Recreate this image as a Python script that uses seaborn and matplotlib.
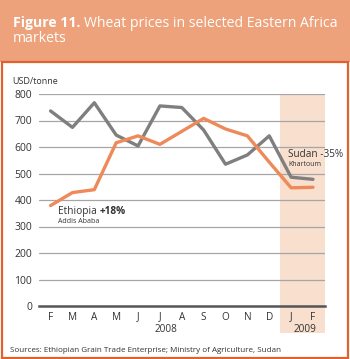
import matplotlib
matplotlib.use("Agg")
import matplotlib.pyplot as plt
import matplotlib.patches as mpatches
import seaborn as sns
import pandas as pd
import numpy as np

months = ["F", "M", "A", "M", "J", "J", "A", "S", "O", "N", "D", "J", "F"]
sudan = [736, 674, 767, 645, 604, 755, 749, 664, 535, 570, 642, 486, 478]
ethiopia = [379, 428, 439, 616, 642, 610, 659, 708, 668, 642, 543, 446, 448]
y_ticks = [0, 100, 200, 300, 400, 500, 600, 700, 800]
years = ["2008", "2009"]

sns.set_style("white")
plt.rcParams['font.family'] = ['Open Sans', 'DejaVu Sans']

W, H = 350, 359
fig = plt.figure(figsize=(W / 100, H / 100), dpi=100)
fig.patch.set_facecolor("white")

HEADER = "#EDA27B"
BORDER = "#E0622E"
SHADE = "#F9DFCE"
ORANGE = "#EE8A5A"
GRAY = "#7F7F7F"

def px(x, y):
    return x / W, 1 - y / H

# header band
fig.patches.append(mpatches.Rectangle((0, 1 - 62 / H), 1, 62 / H, transform=fig.transFigure,
                                      facecolor=HEADER, edgecolor="none", zorder=0))
# border around white area
fig.patches.append(mpatches.Rectangle(px(1.5, 357.5), 346.5 / W, 295.5 / H, transform=fig.transFigure,
                                      facecolor="none", edgecolor=BORDER, linewidth=1.6, zorder=1))

# title
TFS = 10.1
t1 = fig.text(*px(13, 27), "Figure 11.", color="white", fontsize=TFS, fontweight="bold", va="baseline", ha="left")
fig.text(*px(13, 42), "markets", color="white", fontsize=TFS, va="baseline", ha="left")
plt.gcf().canvas.draw()
bb = t1.get_window_extent()
fig.text(bb.x1 / W + 3.5 / W, px(0, 27)[1], "Wheat prices in selected Eastern Africa", color="white",
         fontsize=TFS, va="baseline", ha="left")

ax = fig.add_axes([39 / W, (H - 306) / H, 286 / W, 212 / H])
ax.set_facecolor("none")

x = np.arange(len(months))
df = pd.DataFrame({"x": np.concatenate([x, x]),
                   "price": sudan + ethiopia,
                   "series": ["Sudan"] * len(x) + ["Ethiopia"] * len(x)})

ax.axvspan(10.5, 12.55, ymin=-0.127, ymax=1.0, facecolor=SHADE, edgecolor="none", clip_on=False, zorder=0)
for v in y_ticks[1:]:
    ax.axhline(v, color="#A6A6A6", lw=0.9, zorder=1)

sns.lineplot(data=df, x="x", y="price", hue="series", palette={"Sudan": GRAY, "Ethiopia": ORANGE},
             hue_order=["Sudan", "Ethiopia"], lw=2.4, ax=ax, legend=False, zorder=3)

ax.set_xlim(-0.53, 12.55)
ax.set_ylim(0, 800)
for s in ["top", "right", "left"]:
    ax.spines[s].set_visible(False)
ax.spines["bottom"].set_color("#555555")
ax.spines["bottom"].set_linewidth(1.8)
ax.spines["bottom"].set_zorder(4)
ax.set_xticks(x)
ax.set_xticklabels(months)
ax.set_yticks(y_ticks)
ax.tick_params(axis="x", direction="in", length=4.5, width=1.1, color="#333333", pad=4,
               labelsize=7.2, labelcolor="#333333")
ax.tick_params(axis="y", length=0, pad=5, labelsize=7.5, labelcolor="#333333")
ax.set_xlabel("")
ax.set_ylabel("")

ax.text(5.26, -0.11, years[0], transform=ax.get_xaxis_transform(), ha="center", va="center",
        fontsize=7.2, color="#333333")
ax.text(11.63, -0.11, years[1], transform=ax.get_xaxis_transform(), ha="center", va="center",
        fontsize=7.2, color="#333333")

fig.text(*px(12, 82), "USD/tonne", fontsize=6.5, color="#333333", ha="left", va="center")

# series labels
e1 = ax.text(0.33, 355, "Ethiopia ", fontsize=7.3, color="#333333", ha="left", va="center")
ax.annotate("+18%", xy=(1, 0), xycoords=e1, ha="left", va="bottom", fontsize=7.3,
            fontweight="bold", color="#333333")
ax.text(0.33, 317, "Addis Ababa", fontsize=5, color="#333333", ha="left", va="center")
ax.text(10.88, 572, "Sudan -35%", fontsize=7.2, color="#333333", ha="left", va="center")
ax.text(10.88, 533, "Khartoum", fontsize=5, color="#333333", ha="left", va="center")

fig.text(*px(10, 350), "Sources: Ethiopian Grain Trade Enterprise; Ministry of Agriculture, Sudan",
         fontsize=5.75, color="#333333", ha="left", va="center")

fig.savefig("out.png", dpi=100)
